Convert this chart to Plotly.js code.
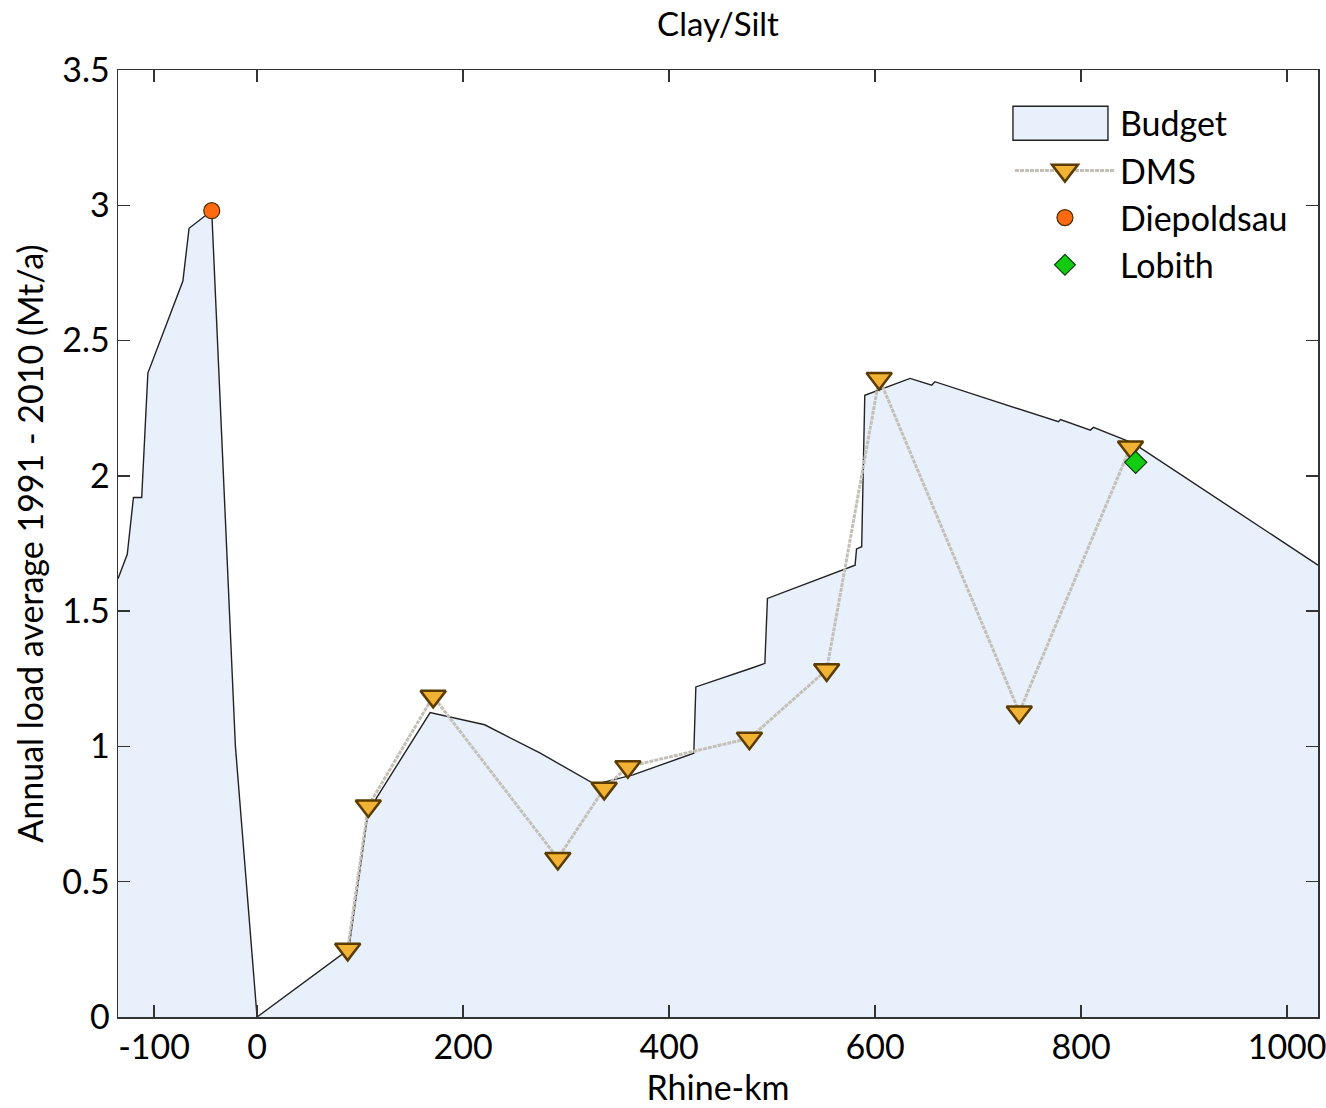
<!DOCTYPE html>
<html>
<head>
<meta charset="utf-8">
<script src="https://cdn.plot.ly/plotly-3.0.1.min.js"></script>
<style>html,body{margin:0;padding:0;background:#fff;}#chart{width:1326px;height:1108px;}</style>
</head>
<body>
<div id="chart"></div>
<script>
// Budget profile (Rhine-km, Mt/a)
var budgetKm = [-135, -126, -120, -112, -106, -72, -66, -44, -21, 0, 89, 107, 116, 168, 221, 275, 328, 365, 424, 426, 479, 493, 495.5, 580.6, 582, 587, 590, 605, 634, 655, 658, 778, 780, 809, 812, 851, 1030];
var budgetLoad = [1.62, 1.71, 1.92, 1.92, 2.38, 2.72, 2.915, 2.98, 1.0, 0, 0.25, 0.735, 0.81, 1.125, 1.08, 0.975, 0.86, 0.895, 0.975, 1.22, 1.288, 1.307, 1.547, 1.67, 1.73, 1.738, 2.298, 2.32, 2.36, 2.335, 2.348, 2.20, 2.208, 2.169, 2.179, 2.12, 1.67];

// DMS stations
var dmsKm = [88, 108, 171, 292, 337, 360, 478, 553, 604, 740, 848];
var dmsLoad = [0.25, 0.78, 1.185, 0.586, 0.845, 0.925, 1.03, 1.283, 2.36, 1.127, 2.107];

// Single stations
var diepKm = [-44];
var diepLoad = [2.98];
var lobithKm = [853];
var lobithLoad = [2.05];

// Axis ticks
var xTickVals = [-100, 0, 200, 400, 600, 800, 1000];
var xTickText = ['-100', '0', '200', '400', '600', '800', '1000'];
var yTickVals = [0, 0.5, 1, 1.5, 2, 2.5, 3, 3.5];
var yTickText = ['0', '0.5', '1', '1.5', '2', '2.5', '3', '3.5'];

var FONT = 'Lato, "Open Sans", sans-serif';

var traces = [
  {
    x: budgetKm, y: budgetLoad, name: 'Budget', type: 'scatter', mode: 'lines',
    fill: 'tozeroy', fillcolor: '#e8f0fc', legendgroup: 'g1',
    line: {color: '#222222', width: 1.4}
  },
  {
    x: dmsKm, y: dmsLoad, name: 'DMS', type: 'scatter', mode: 'lines+markers', legendgroup: 'g2',
    line: {color: '#c4c0b8', width: 3, dash: '4px,1px'},
    marker: {symbol: 'triangle-down', size: 22, color: '#f2b233', line: {color: '#5a3b00', width: 2.5}}
  },
  {
    x: diepKm, y: diepLoad, name: 'Diepoldsau', type: 'scatter', mode: 'markers', legendgroup: 'g3',
    marker: {symbol: 'circle', size: 16, color: '#ff6a10', line: {color: '#4a2a00', width: 1.2}}
  },
  {
    x: lobithKm, y: lobithLoad, name: 'Lobith', type: 'scatter', mode: 'markers', legendgroup: 'g4',
    marker: {symbol: 'diamond', size: 17, color: '#11cc11', line: {color: '#0a3a0a', width: 1.2}}
  }
];

var layout = {
  width: 1326, height: 1108,
  paper_bgcolor: '#ffffff', plot_bgcolor: '#ffffff',
  margin: {l: 118, r: 8, t: 70, b: 91},
  font: {family: FONT, color: '#000000', size: 30},
  title: {text: 'Clay/Silt', x: 0.5415, xanchor: 'center', y: 0.978, yanchor: 'middle', font: {family: FONT, size: 33, color: '#000'}},
  showlegend: true,
  legend: {
    x: 0.7433, y: 0.974, xanchor: 'left', yanchor: 'top',
    bgcolor: 'rgba(255,255,255,0)', borderwidth: 0,
    itemwidth: 100, font: {family: FONT, size: 34, color: '#000'},
    tracegroupgap: 0
  },
  xaxis: {
    range: [-135, 1030], tickmode: 'array', tickvals: xTickVals, ticktext: xTickText,
    ticks: 'inside', ticklen: 12, tickwidth: 1.3, tickcolor: '#333',
    showline: true, linecolor: '#333', linewidth: 1.5, mirror: 'ticks',
    showgrid: false, zeroline: false, ticklabeloverflow: 'allow',
    tickfont: {family: FONT, size: 34, color: '#000'},
    title: {text: 'Rhine-km', font: {family: FONT, size: 34, color: '#000'}, standoff: 2}
  },
  yaxis: {
    range: [0, 3.5], tickmode: 'array', tickvals: yTickVals, ticktext: yTickText,
    ticks: 'inside', ticklen: 12, tickwidth: 1.3, tickcolor: '#333',
    showline: true, linecolor: '#333', linewidth: 1.5, mirror: 'ticks',
    showgrid: false, zeroline: false,
    tickfont: {family: FONT, size: 34, color: '#000'},
    title: {text: 'Annual load average 1991 - 2010 (Mt/a)', font: {family: FONT, size: 34, color: '#000'}, standoff: 8}
  }
};

Plotly.newPlot('chart', traces, layout, {displayModeBar: false, staticPlot: true}).then(function (gd) {
  var items = gd.querySelectorAll('.legend .traces');
  if (items.length > 0) {
    // Budget: bordered filled rectangle symbol
    var b = items[0];
    var fillPath = b.querySelector('.legendfill path');
    if (fillPath) {
      fillPath.setAttribute('d', 'M3,-17h95v34h-95z');
      fillPath.style.fill = '#e8f0fc';
      fillPath.style.stroke = '#222222';
      fillPath.style.strokeWidth = '1.4px';
    }
    var ln = b.querySelectorAll('.legendlines path');
    ln.forEach(function (p) { p.style.display = 'none'; });
  }
  if (items.length > 1) {
    var pts = items[1].querySelectorAll('.legendpoints path');
    pts.forEach(function (p) {
      var t = p.getAttribute('transform') || '';
      p.setAttribute('transform', t + ' scale(1.4)');
      p.style.strokeWidth = '1.8px';
    });
  }
});
</script>
</body>
</html>
